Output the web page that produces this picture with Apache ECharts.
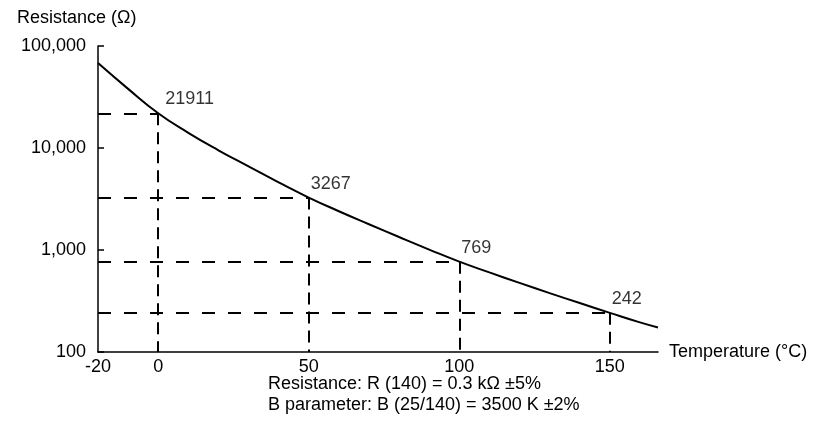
<!DOCTYPE html>
<html>
<head>
<meta charset="utf-8">
<script src="https://cdn.jsdelivr.net/npm/echarts@6/dist/echarts.min.js"></script>
<style>
  html, body { margin: 0; padding: 0; background: #fff; }
  #chart { width: 815px; height: 439px; }
</style>
</head>
<body>
<div id="chart"></div>
<script>
// curve readings (temperature in degC, resistance in ohm)
const temps = [-20, -10, 0, 10, 20, 30, 40, 50, 60, 70, 80, 90, 100, 110, 120, 130, 140, 150, 160, 166];
const resistance = [68000, 38000, 21911, 14100, 9500, 6600, 4600, 3267, 2400, 1790, 1340, 1010, 769, 603, 476, 378, 302, 242, 195, 174];

// marked points
const markTemps = [0, 50, 100, 150];
const markRes = [21911, 3267, 769, 242];

const xTickValues = [-20, 0, 50, 100, 150];
const noteLines = [
  "Resistance: R (140) = 0.3 k\u03a9 \u00b15%",
  "B parameter: B (25/140) = 3500 K \u00b12%"
];

const font = "'Liberation Sans', Arial, sans-serif";
const chart = echarts.init(document.getElementById("chart"));

// horizontal and vertical guides use different dash lengths in the original
const hDash = { color: "#000", width: 2, type: [13, 13] };
const vDash = { color: "#000", width: 2, type: [12, 7] };
const markLines = [];
markTemps.forEach((t, i) => {
  markLines.push([{ coord: [-20, markRes[i]], lineStyle: hDash }, { coord: [t, markRes[i]] }]);
  markLines.push([{ coord: [t, markRes[i]], lineStyle: vDash }, { coord: [t, 100] }]);
});

const option = {
  animation: false,
  textStyle: { fontFamily: font },
  title: {
    text: "Resistance (\u03a9)",
    left: 12,
    top: 4,
    textStyle: { fontFamily: font, fontSize: 18, fontWeight: "normal", color: "#000" }
  },
  grid: { left: 98, right: 157, top: 46, bottom: 87 },
  xAxis: {
    type: "value",
    min: -20,
    max: 166,
    name: "Temperature (\u00b0C)",
    nameLocation: "end",
    nameGap: 11,
    nameTextStyle: { fontFamily: font, fontSize: 18, color: "#000" },
    axisLine: { onZero: false, lineStyle: { color: "#000", width: 1.5 } },
    axisTick: { show: false },
    splitLine: { show: false },
    axisLabel: {
      customValues: xTickValues,
      margin: 6,
      fontFamily: font,
      fontSize: 18,
      color: "#000"
    }
  },
  yAxis: {
    type: "log",
    logBase: 10,
    min: 100,
    max: 100000,
    axisLine: { show: true, onZero: false, lineStyle: { color: "#000", width: 1.5 } },
    axisTick: { show: true, inside: true, length: 6, lineStyle: { color: "#000", width: 1.5 } },
    splitLine: { show: false },
    axisLabel: {
      margin: 12,
      fontFamily: font,
      fontSize: 18,
      color: "#000",
      formatter: v => Number(v).toLocaleString("en-US")
    }
  },
  series: [
    {
      type: "line",
      data: temps.map((t, i) => [t, resistance[i]]),
      smooth: true,
      showSymbol: false,
      lineStyle: { color: "#000", width: 2 },
      silent: true,
      markLine: {
        silent: true,
        symbol: "none",
        label: { show: false },
        lineStyle: vDash,
        data: markLines
      }
    },
    {
      type: "scatter",
      symbolSize: 0,
      silent: true,
      data: markTemps.map((t, i) => ({
        value: [t, markRes[i]],
        label: { offset: i === 0 ? [7, 0] : [2, 0] }
      })),
      label: {
        show: true,
        position: "top",
        align: "left",
        distance: 5,
        fontFamily: font,
        fontSize: 18,
        color: "#000",
        formatter: p => String(p.value[1])
      }
    }
  ],
  graphic: noteLines.map((s, i) => ({
    type: "text",
    left: 268,
    top: 375 + i * 21,
    style: { text: s, font: "18px " + font, fill: "#000" }
  }))
};
chart.setOption(option);
</script>
</body>
</html>
